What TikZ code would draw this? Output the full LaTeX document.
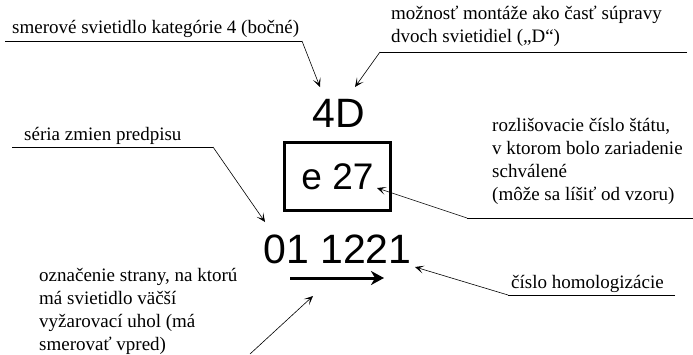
\documentclass[tikz,border=0pt]{standalone}
\usepackage{fontspec}
\setmainfont{Liberation Serif}
\newfontfamily\platefont{Liberation Sans}
\usetikzlibrary{arrows.meta, positioning}

\begin{document}
\begin{tikzpicture}[
    x=1pt, y=-1pt,
    note/.style={align=left, inner sep=0pt, anchor=base west, font=\fontsize{19}{22.8}\selectfont},
    plate/.style={inner sep=0pt, anchor=base, font=\platefont\fontsize{41}{41}\selectfont},
    stamp/.style={draw, line width=3pt, inner sep=0pt, minimum width=106, minimum height=68, font=\platefont\fontsize{37}{37}\selectfont},
    leader/.style={draw, line width=0.6pt},
    pointer/.style={leader, -{Stealth[length=9pt, width=8pt, inset=5pt]}},
    sidearrow/.style={draw, line width=3pt, -{Stealth[length=13pt, width=14pt, inset=4pt]}}
]
    \useasboundingbox (0,0) rectangle (693,354);

    % Approval mark
    \node[plate] (cat) at (339,127) {4D};
    \node[stamp] (state) at (337.5,176.5) {e 27};
    \node[plate] (approval) at (337.5,263) {01 1221};
    \coordinate (sidefrom) at (290,278);
    \coordinate (sideto) at (384,278);
    \draw[sidearrow] (sidefrom) -- (sideto);

    % Labels (base = last line)
    \node[note] (catnote) at (12,33) {smerové svietidlo kategórie 4 (bočné)};
    \node[note] (pairnote) at (391,42) {možnosť montáže ako časť súpravy\\dvoch svietidiel („D“)};
    \node[note] (seriesnote) at (24,140) {séria zmien predpisu};
    \node[note] (statenote) at (492,200) {rozlišovacie číslo štátu,\\v ktorom bolo zariadenie\\schválené\\(môže sa líšiť od vzoru)};
    \node[note] (sidenote) at (39,350) {označenie strany, na ktorú\\má svietidlo väčší\\vyžarovací uhol (má\\smerovať vpred)};
    \node[note] (numnote) at (511,288) {číslo homologizácie};

    % Leader lines
    \coordinate (catbend) at (302,41);
    \coordinate (catend) at (5,41);
    \coordinate (cattip) at (320,87);
    \coordinate (pairbend) at (380,52);
    \coordinate (pairend) at (687,52);
    \coordinate (pairtip) at (355,87);
    \coordinate (seriesbend) at (213,147);
    \coordinate (seriesend) at (12,147);
    \coordinate (seriestip) at (265,222);
    \coordinate (statebend) at (467,218);
    \coordinate (stateend) at (693,218);
    \coordinate (statetip) at (377,188);
    \coordinate (sidebend) at (250,354);
    \coordinate (sidetip) at (313,296);
    \coordinate (numbend) at (508,295);
    \coordinate (numend) at (675,295);
    \coordinate (numtip) at (415,267);

    \draw[leader] (catend) -- (catbend);
    \draw[pointer] (catbend) -- (cattip);
    \draw[leader] (pairend) -- (pairbend);
    \draw[pointer] (pairbend) -- (pairtip);
    \draw[leader] (seriesend) -- (seriesbend);
    \draw[pointer] (seriesbend) -- (seriestip);
    \draw[leader] (stateend) -- (statebend);
    \draw[pointer] (statebend) -- (statetip);
    \draw[pointer] (sidebend) -- (sidetip);
    \draw[leader] (numend) -- (numbend);
    \draw[pointer] (numbend) -- (numtip);
\end{tikzpicture}
\end{document}
